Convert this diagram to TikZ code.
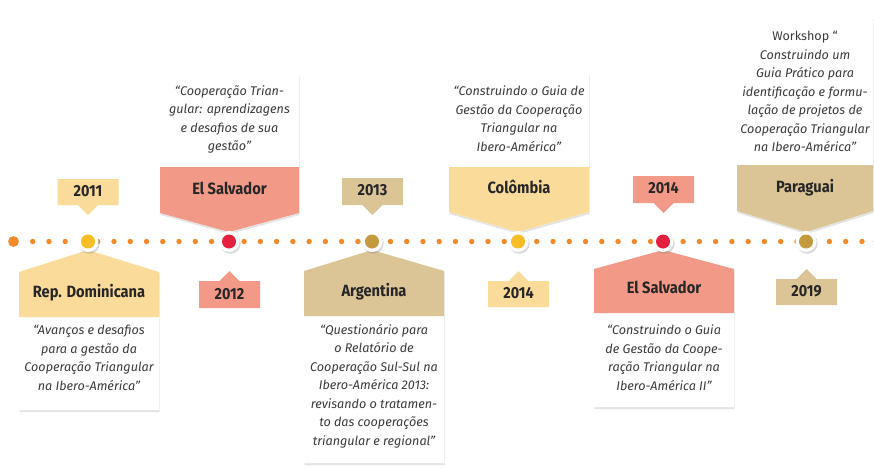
\documentclass[tikz,border=0pt]{standalone}
\usepackage{fontspec}
\setmainfont{Fira Sans}
\newfontfamily\hdfont[FakeStretch=0.9]{Fira Sans}
\usetikzlibrary{shadows}
\definecolor{cyel}{HTML}{FBDB9A}
\definecolor{csal}{HTML}{F39988}
\definecolor{ctan}{HTML}{DBC496}
\definecolor{dyel}{HTML}{F7BD27}
\definecolor{dred}{HTML}{E5203E}
\definecolor{dgold}{HTML}{C49A3E}
\definecolor{dorange}{HTML}{F28A2A}
\definecolor{tdark}{HTML}{262626}
\definecolor{tgray}{HTML}{3A3A3A}
\newcommand\cardBelow[7]{%
  \path[card] (#1,#4) -- (#3,250) -- (#2,#4) -- (#2,#6) -- (#1,#6) -- cycle;
  \fill[#7] (#1,#4) -- (#3,250) -- (#2,#4) -- (#2,#5) -- (#1,#5) -- cycle;}
\newcommand\cardAbove[7]{%
  \path[card] (#1,#4) -- (#2,#4) -- (#2,#6) -- (#3,232) -- (#1,#6) -- cycle;
  \fill[#7] (#1,#5) -- (#2,#5) -- (#2,#6) -- (#3,232) -- (#1,#6) -- cycle;}
\newcommand\tagDown[4]{%
  \fill[#4] (#1-30.5,#2) -- (#1+30.5,#2) -- (#1+30.5,#3) -- (#1+10,#3) -- (#1,#3+10) -- (#1-10,#3) -- (#1-30.5,#3) -- cycle;}
\newcommand\tagUp[4]{%
  \fill[#4] (#1-30.5,#2) -- (#1-10,#2) -- (#1,#2-10) -- (#1+10,#2) -- (#1+30.5,#2) -- (#1+30.5,#3) -- (#1-30.5,#3) -- cycle;}
\newcommand\milestone[3]{%
  \coordinate (#1) at (#2,241.5);
  \fill[white, drop shadow={opacity=.3,shadow xshift=1.2pt,shadow yshift=-1.8pt}] (#1) circle (10.5);
  \fill[#3] (#1) circle (7);}
\begin{document}
\begin{tikzpicture}[x=1pt,y=-1pt,
  card/.style={fill=white, drop shadow={opacity=.22, shadow xshift=0.6pt, shadow yshift=-2pt}},
  hdr/.style={font={\hdfont\bfseries\fontsize{16.3}{18}\selectfont}, text=tdark, anchor=mid, inner sep=0pt},
  yr/.style={font={\hdfont\bfseries\fontsize{16}{18}\selectfont}, text=tdark, anchor=mid, inner sep=0pt},
  desc/.style={font={\itshape\fontsize{12.6}{18.5}\selectfont}, text=tgray, align=center, inner sep=0pt}]
\path[use as bounding box] (0,0) rectangle (874,467);
% timeline dots
\foreach \k in {0,...,51} \fill[dorange] (32.7+16.26*\k,241.5) circle (2.7);
\fill[dorange] (13.5,241.5) circle (5.4);
\fill[dorange] (879,241.5) circle (5.4);
% cards
\cardBelow{19}{159}{88}{272}{317}{410}{cyel}
\cardAbove{160}{299}{229}{74}{167}{213}{csal}
\cardBelow{304}{444}{372}{271}{316}{463}{ctan}
\cardAbove{449}{589}{518}{73}{167}{212}{cyel}
\cardBelow{594}{734}{663}{269}{313}{407}{csal}
\cardAbove{737}{873}{806}{17}{165}{211}{ctan}
% year tags
\tagDown{88}{179}{205}{cyel}
\tagUp{229.5}{281}{308}{csal}
\tagDown{372.5}{178}{205}{ctan}
\tagUp{518.5}{281}{307}{cyel}
\tagDown{663.5}{176}{203}{csal}
\tagUp{806.5}{279}{305}{ctan}
% milestones
\milestone{m1}{88}{dyel}
\milestone{m2}{229}{dred}
\milestone{m3}{372}{dgold}
\milestone{m4}{518}{dyel}
\milestone{m5}{663}{dred}
\milestone{m6}{806}{dgold}
% headers
\node[hdr] (h1) at (89,295) {Rep. Dominicana};
\node[hdr] (h2) at (229.5,192) {El Salvador};
\node[hdr] (h3) at (374,294) {Argentina};
\node[hdr] (h4) at (519,191) {Colômbia};
\node[hdr] (h5) at (664,291) {El Salvador};
\node[hdr] (h6) at (805,190) {Paraguai};
% years
\node[yr] (y1) at (88,194) {2011};
\node[yr] (y2) at (229.5,297) {2012};
\node[yr] (y3) at (372.5,193) {2013};
\node[yr] (y4) at (518.5,296) {2014};
\node[yr] (y5) at (663.5,191) {2014};
\node[yr] (y6) at (806.5,294) {2019};
% descriptions
\node[desc] (d1) at (89,358) {“Avanços e desafios\\para a gestão da\\Cooperação Triangular\\na Ibero-América”};
\node[desc] (d2) at (229.5,119.5) {“Cooperação Trian-\\gular: aprendizagens\\e desafios de sua\\gestão”};
\node[desc] (d3) at (374,386) {“Questionário para\\o Relatório de\\Cooperação Sul-Sul na\\Ibero-América 2013:\\revisando o tratamen-\\to das cooperações\\triangular e regional”};
\node[desc] (d4) at (519,118.5) {“Construindo o Guia de\\Gestão da Cooperação\\Triangular na\\Ibero-América”};
\node[desc] (d5) at (664,357.5) {“Construindo o Guia\\de Gestão da Coope-\\ração Triangular na\\Ibero-América II”};
\node[desc] (d6) at (805,91.5) {{\upshape Workshop “}\\Construindo um\\Guia Prático para\\identificação e formu-\\lação de projetos de\\Cooperação Triangular\\na Ibero-América”};
\end{tikzpicture}
\end{document}
